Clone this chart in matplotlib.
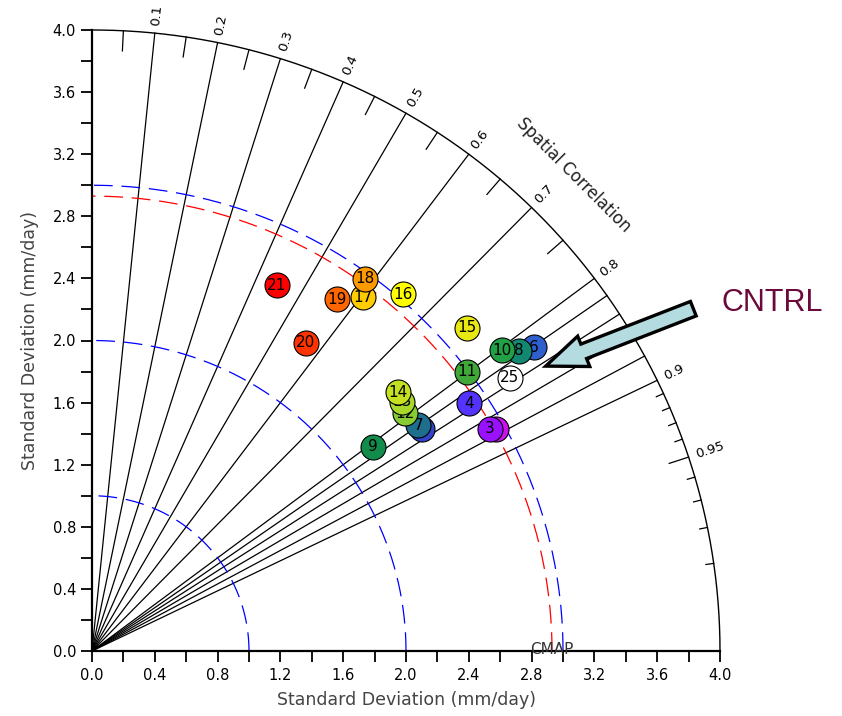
import numpy as np
import matplotlib
matplotlib.use('Agg')
import matplotlib.pyplot as plt
from matplotlib.patches import FancyArrow

# ---------------- data ----------------
labels = ['2', '3', '4', '5', '6', '7', '8', '9', '10', '11', '12', '13', '14',
          '15', '16', '17', '18', '19', '20', '21', '25']
std = [2.944, 2.911, 2.884, 2.542, 3.429, 2.536, 3.336, 2.221, 3.252, 2.989,
       2.515, 2.544, 2.565, 3.168, 3.036, 2.860, 2.961, 2.752, 2.407, 2.635, 3.190]
corr = [0.874, 0.871, 0.833, 0.827, 0.821, 0.819, 0.815, 0.806, 0.803, 0.799,
        0.793, 0.776, 0.760, 0.754, 0.653, 0.604, 0.587, 0.567, 0.566, 0.447, 0.834]
colors = ['#CC11EE', '#9911FF', '#5533FF', '#3344CC', '#2E5FCC', '#1E6E8E',
          '#128870', '#128C4A', '#22A045', '#40A838', '#88CC33', '#A8D82A',
          '#C4E020', '#E8E812', '#FFFF00', '#FFCC00', '#FF9900', '#FF6600',
          '#FF3300', '#FF0000', '#FFFFFF']

ref_std = 2.93
ref_name = 'CMAP'
std_circles = [1.0, 2.0, 3.0]
corr_lines = [0.1, 0.2, 0.3, 0.4, 0.5, 0.6, 0.7, 0.8, 0.82, 0.84, 0.86, 0.88, 0.9]
corr_labels = [0.1, 0.2, 0.3, 0.4, 0.5, 0.6, 0.7, 0.8, 0.9, 0.95]
corr_minor_long = [0.05, 0.15, 0.25, 0.35, 0.45, 0.55, 0.65, 0.75]
corr_minor_short = [0.91, 0.92, 0.93, 0.94, 0.96, 0.97, 0.98, 0.99]
xticks = [0.0, 0.4, 0.8, 1.2, 1.6, 2.0, 2.4, 2.8, 3.2, 3.6, 4.0]
rmax = 4.0

# ---------------- figure ----------------
W, H = 842, 716
fig = plt.figure(figsize=(W / 100, H / 100), dpi=100)
ax = fig.add_axes([92 / W, 65 / H, 628 / W, 621 / H])
ax.set_xlim(0, rmax)
ax.set_ylim(0, rmax)
for s in ['top', 'right']:
    ax.spines[s].set_visible(False)
for s in ['left', 'bottom']:
    ax.spines[s].set_linewidth(1.6)

ax.set_xticks(xticks)
ax.set_yticks(xticks)
ax.set_xticklabels([f'{t:.1f}' for t in xticks])
ax.set_yticklabels([f'{t:.1f}' for t in xticks])
ax.set_xticks(np.arange(0.2, 4.0, 0.4), minor=True)
ax.set_yticks(np.arange(0.2, 4.0, 0.4), minor=True)
ax.tick_params(which='both', direction='out', length=8, width=1.3, labelsize=10.5)
ax.tick_params(axis='x', pad=4)
ax.set_xlabel('Standard Deviation (mm/day)', fontsize=12.5, color='#444444', labelpad=6)
ax.set_ylabel('Standard Deviation (mm/day)', fontsize=12.5, color='#444444', labelpad=10)

# outer arc
th = np.linspace(0, np.pi / 2, 400)
ax.plot(rmax * np.cos(th), rmax * np.sin(th), color='black', lw=1.0, clip_on=False)

# correlation lines
for c in corr_lines:
    s = np.sqrt(1 - c ** 2)
    ax.plot([0, rmax * c], [0, rmax * s], color='black', lw=0.9, clip_on=False)

# arc ticks
for c in corr_minor_long:
    s = np.sqrt(1 - c ** 2)
    ax.plot([rmax * c, (rmax - 0.13) * c], [rmax * s, (rmax - 0.13) * s], color='black', lw=0.9, clip_on=False)
for c in corr_minor_short:
    s = np.sqrt(1 - c ** 2)
    ax.plot([rmax * c, (rmax - 0.05) * c], [rmax * s, (rmax - 0.05) * s], color='black', lw=0.9, clip_on=False)
c = 0.95
s = np.sqrt(1 - c ** 2)
ax.plot([rmax * c, (rmax - 0.13) * c], [rmax * s, (rmax - 0.13) * s], color='black', lw=0.9, clip_on=False)

# correlation labels
for c in corr_labels:
    a = np.arccos(c)
    r = rmax + 0.05
    lab = f'{c:g}'
    ax.text(r * np.cos(a), r * np.sin(a), lab, rotation=np.degrees(a), rotation_mode='anchor',
            ha='left', va='center', fontsize=9.5, color='black', clip_on=False)

a = np.radians(45.0)
ax.text(4.34 * np.cos(a), 4.34 * np.sin(a), 'Spatial Correlation', rotation=-45,
        rotation_mode='anchor', ha='center', va='center', fontsize=12, color='#222222')

# std circles
for r in std_circles:
    ax.plot(r * np.cos(th), r * np.sin(th), color='blue', lw=0.9, dashes=(15, 7), clip_on=False)
ax.plot(ref_std * np.cos(th), ref_std * np.sin(th), color='red', lw=0.9, dashes=(15, 7), clip_on=False)

ax.text(ref_std, 0.01, ref_name, ha='center', va='center', fontsize=11, color='#333333', zorder=3)

# points
for i, (lab, sd, cc, col) in enumerate(zip(labels, std, corr, colors)):
    x = sd * cc
    y = sd * np.sqrt(1 - cc ** 2)
    z = 10 + 2 * i
    ax.plot(x, y, 'o', ms=18, mfc=col, mec='black', mew=0.8, zorder=z, clip_on=False)
    ax.text(x, y, lab, ha='center', va='center', fontsize=11, color='black', zorder=z + 1)

# CNTRL arrow & label
x0, y0 = 3.83, 2.205
x1, y1 = 2.89, 1.835
arr = FancyArrow(x0, y0, x1 - x0, y1 - y0, width=0.1, head_width=0.21, head_length=0.26,
                 length_includes_head=True, fc='#B4DCE0', ec='black', lw=2.4,
                 clip_on=False, zorder=60)
ax.add_patch(arr)
fig.text(772 / W, 1 - 303 / H, 'CNTRL', ha='center', va='center', fontsize=22,
         family='Liberation Sans', color='#6B0A3A')

fig.savefig('out.png', dpi=100)
